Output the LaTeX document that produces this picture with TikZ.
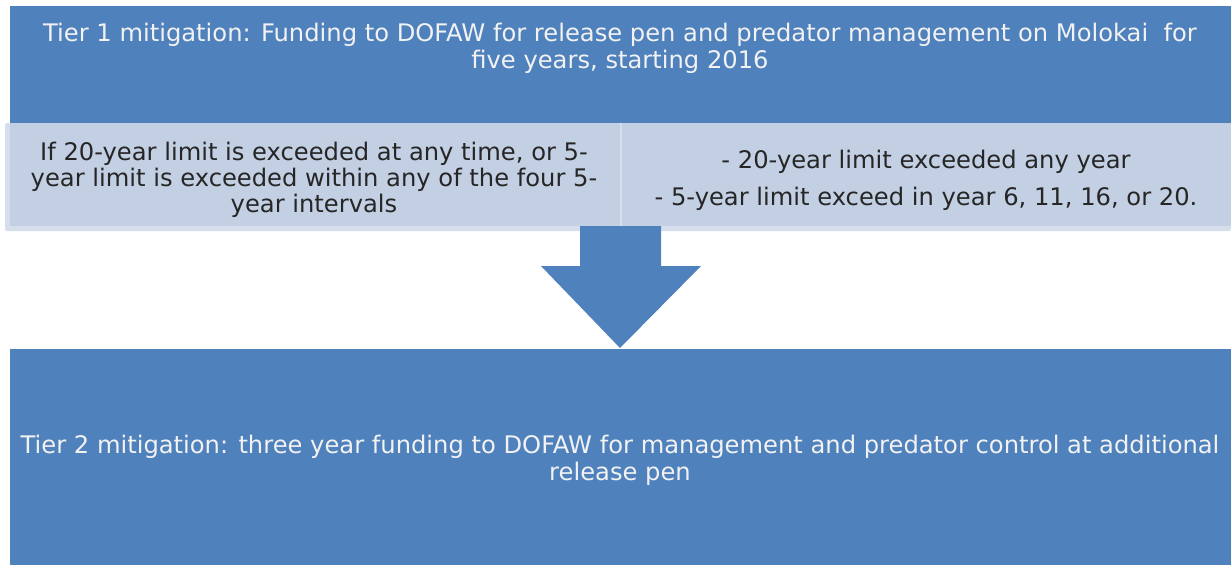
\documentclass[tikz,border=0pt]{standalone}
\usepackage{fontspec}
\setmainfont{DejaVu Sans}
\definecolor{tierblue}{HTML}{4F81BD}
\definecolor{lightbox}{HTML}{C3CFE3}
\definecolor{shadowbox}{HTML}{D6DEEC}
\definecolor{darktext}{HTML}{262626}
\definecolor{lighttext}{HTML}{F2F2F2}
\tikzset{
  bluebox/.style={fill=tierblue, draw=none},
  lightpanel/.style={fill=lightbox, draw=none},
  panelshadow/.style={fill=shadowbox, draw=none, rounded corners=1.5pt},
  whitetxt/.style={text=lighttext, align=center, font=\fontsize{24.2}{27}\selectfont},
  darktxt/.style={text=darktext, align=center, font=\fontsize{24.2}{26}\selectfont},
}
\begin{document}
\begin{tikzpicture}[x=1pt,y=-1pt]
\useasboundingbox (0,0) rectangle (1231,565);
% top box
\path[bluebox] (10,6) rectangle (1231,123);
\node[whitetxt] (t1) at (620,48.5) {Tier 1 mitigation: Funding to DOFAW for release pen and predator management on Molokai\ \ for\\five years, starting 2016};
% middle panels with shadow
\path[panelshadow] (5,123) rectangle (620,231);
\path[panelshadow] (618,123) rectangle (1231,231);
\path[lightpanel] (10,123) rectangle (620,226);
\path[lightpanel] (622,123) rectangle (1231,226);
\node[darktxt] (left) at (314,180) {If 20-year limit is exceeded at any time, or 5-\\year limit is exceeded within any of the four 5-\\year intervals};
\node[darktxt, font=\fontsize{24.2}{37}\selectfont] (right) at (926,180) {- 20-year limit exceeded any year\\- 5-year limit exceed in year 6, 11, 16, or 20.};
% bottom box
\path[bluebox] (10,349) rectangle (1231,565);
\node[whitetxt] (t2) at (620,460.5) {Tier 2 mitigation: three year funding to DOFAW for management and predator control at additional\\release pen};
% arrow
\coordinate (atop) at (620,226);
\coordinate (atip) at (620,348);
\fill[tierblue] (580,226) -- (661,226) -- (661,266) -- (701,266) -- (atip) -- (541,266) -- (580,266) -- cycle;
\end{tikzpicture}
\end{document}
